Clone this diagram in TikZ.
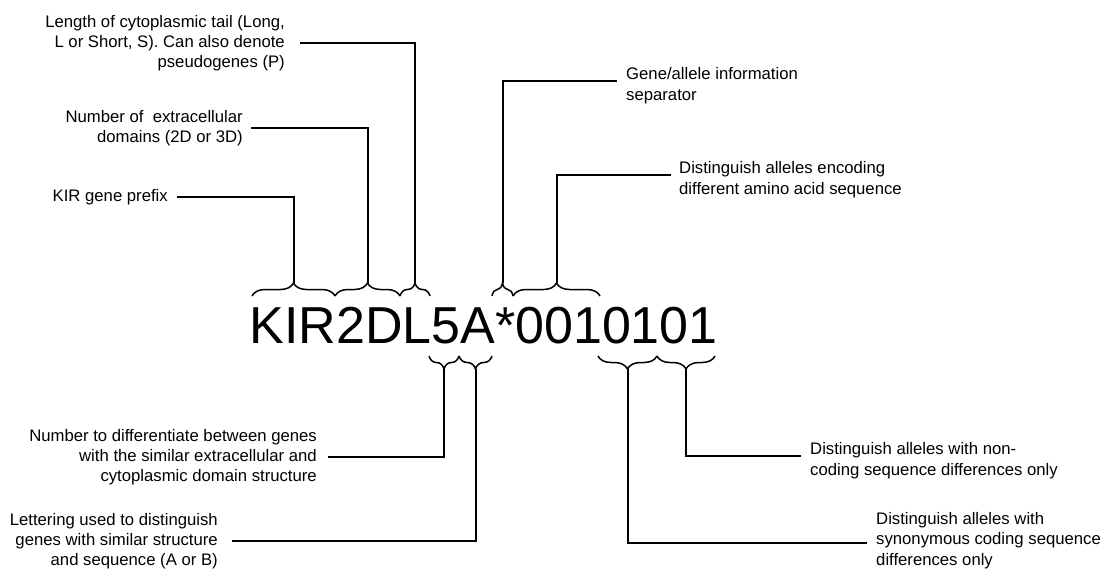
\documentclass[tikz,border=0pt]{standalone}
\usepackage{fontspec}
\setmainfont{Liberation Sans}
\usetikzlibrary{decorations.pathreplacing}

\begin{document}
\begin{tikzpicture}[x=1pt,y=-1pt,
  lbl/.style={inner sep=0pt, font=\fontsize{16.7}{20.3}\selectfont},
  lblL/.style={lbl, align=right, anchor=east},
  lblR/.style={lbl, align=left, anchor=west},
  lead/.style={line width=2pt},
  brc/.style={line width=1.5pt, decorate, decoration={brace, amplitude=13pt}},
]
\useasboundingbox (0,0) rectangle (1115,570);

% the allele name
\node[inner sep=0pt, anchor=base west, font=\fontsize{52}{52}\selectfont] (code) at (249.2,343) {KIR2DL5A*0010101};

% braces above the name (tips up)
\draw[brc] (252,296) -- (335,296);
\draw[brc] (335,296) -- (400,296);
\draw[brc] (400,296) -- (430,296);
\draw[brc] (492,296) -- (513,296);
\draw[brc] (513,296) -- (600,296);
% braces below the name (tips down)
\draw[brc] (459,356) -- (429,356);
\draw[brc] (492,356) -- (459,356);
\draw[brc] (657,356) -- (598,356);
\draw[brc] (715,356) -- (657,356);

% brace tips
\coordinate (tKIR) at (293.5,283);
\coordinate (tDom) at (367.5,283);
\coordinate (tTail) at (415,283);
\coordinate (tSep) at (502.5,283);
\coordinate (tAA) at (556.5,283);
\coordinate (tNum) at (444,369);
\coordinate (tLet) at (475.5,369);
\coordinate (tSyn) at (627.5,369);
\coordinate (tNon) at (686,369);

% labels on the left
\node[lblL] (len) at (285,43) {Length of cytoplasmic tail (Long,\\L or Short, S). Can also denote\\pseudogenes (P)};
\node[lblL] (ext) at (243,128) {Number of\ \ extracellular\\domains (2D or 3D)};
\node[lblL] (pre) at (168,197) {KIR gene prefix};
\node[lblL] (num) at (317,457) {Number to differentiate between genes\\with the similar extracellular and\\cytoplasmic domain structure};
\node[lblL] (let) at (218,541) {Lettering used to distinguish\\genes with similar structure\\and sequence (A or B)};

% labels on the right
\node[lblR] (sep) at (626,85.8) {Gene/allele information\\separator};
\node[lblR] (enc) at (679,179.8) {Distinguish alleles encoding\\different amino acid sequence};
\node[lblR] (nonc) at (810,460.8) {Distinguish alleles with non-\\coding sequence differences only};
\node[lblR] (syn) at (876,540.5) {Distinguish alleles with\\synonymous coding sequence\\differences only};

% leader lines
\draw[lead] ([xshift=15pt]len.east) -| (tTail);
\draw[lead] ([xshift=8pt]ext.east) -| (tDom);
\draw[lead] ([xshift=9pt]pre.east) -| (tKIR);
\draw[lead] ([xshift=11pt]num.east) -| (tNum);
\draw[lead] ([xshift=14pt]let.east) -| (tLet);
\draw[lead] (tSep) |- ([shift={(-9pt,4.8pt)}]sep.west);
\draw[lead] (tAA) |- ([shift={(-8pt,4.8pt)}]enc.west);
\draw[lead] (tNon) |- ([shift={(-9pt,4.8pt)}]nonc.west);
\draw[lead] (tSyn) |- ([shift={(-9pt,-2pt)}]syn.west);
\end{tikzpicture}
\end{document}
